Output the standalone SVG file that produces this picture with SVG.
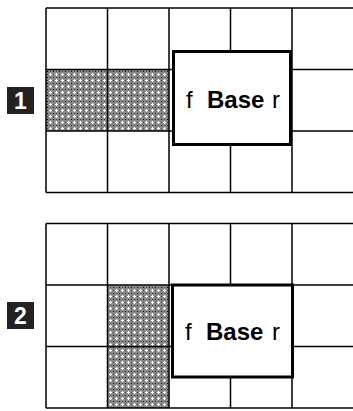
<svg xmlns="http://www.w3.org/2000/svg" width="353" height="411" viewBox="0 0 353 411">
<defs>
<pattern id="hatch" patternUnits="userSpaceOnUse" width="6" height="6">
<rect width="6" height="6" fill="#8a8a8a"/>
<rect x="1" y="2" width="3" height="1" fill="#fff"/>
<rect x="2" y="1" width="1" height="3" fill="#fff"/>
<rect x="5" y="5" width="1" height="1" fill="#000"/>
<rect x="2" y="5" width="1" height="1" fill="#444"/>
<rect x="5" y="2" width="1" height="1" fill="#444"/>
</pattern>
</defs>
<style>
.grid{stroke:#000;stroke-width:1.5;fill:none}
.box{fill:#fff;stroke:#000;stroke-width:3}
.badge{fill:#222}
.num{font-family:"Liberation Sans",Arial,sans-serif;font-weight:bold;font-size:23px;fill:#fff}
.lbl{font-family:"Liberation Sans",Arial,sans-serif;font-size:24px;fill:#000}
.b{font-weight:bold}
</style>
<rect width="353" height="411" fill="#fff"/>
<g id="panel1">
<rect x="46" y="69.5" width="123" height="61.5" fill="url(#hatch)"/>
<g class="grid">
<path d="M46 8H353M46 69.5H353M46 131H353M46 192.5H353"/>
<path d="M46 8V192.5M107.5 8V192.5M169 8V192.5M230.5 8V192.5M292 8V192.5"/>
</g>
<g id="badge1"><rect class="badge" x="7" y="87" width="27" height="27"/><text class="num" x="20.5" y="109" text-anchor="middle">1</text></g>
<g id="base1"><rect class="box" x="173.5" y="51.5" width="117" height="93"/>
<text class="lbl" y="107.5"><tspan x="186">f</tspan><tspan class="b" x="207">Base</tspan><tspan x="272">r</tspan></text></g>
</g>
<g id="panel2">
<rect x="107.5" y="285" width="61.5" height="123" fill="url(#hatch)"/>
<g class="grid">
<path d="M46 223.5H353M46 285H353M46 346.5H353M46 408H353"/>
<path d="M46 223.5V408M107.5 223.5V408M169 223.5V408M230.5 223.5V408M292 223.5V408"/>
</g>
<g id="badge2"><rect class="badge" x="7" y="302" width="27" height="27"/><text class="num" x="20.5" y="323.5" text-anchor="middle">2</text></g>
<g id="base2"><rect class="box" x="172.5" y="285" width="120" height="92"/>
<text class="lbl" y="339.5"><tspan x="185">f</tspan><tspan class="b" x="206">Base</tspan><tspan x="272">r</tspan></text></g>
</g>
<g id="connectors"/>
</svg>
